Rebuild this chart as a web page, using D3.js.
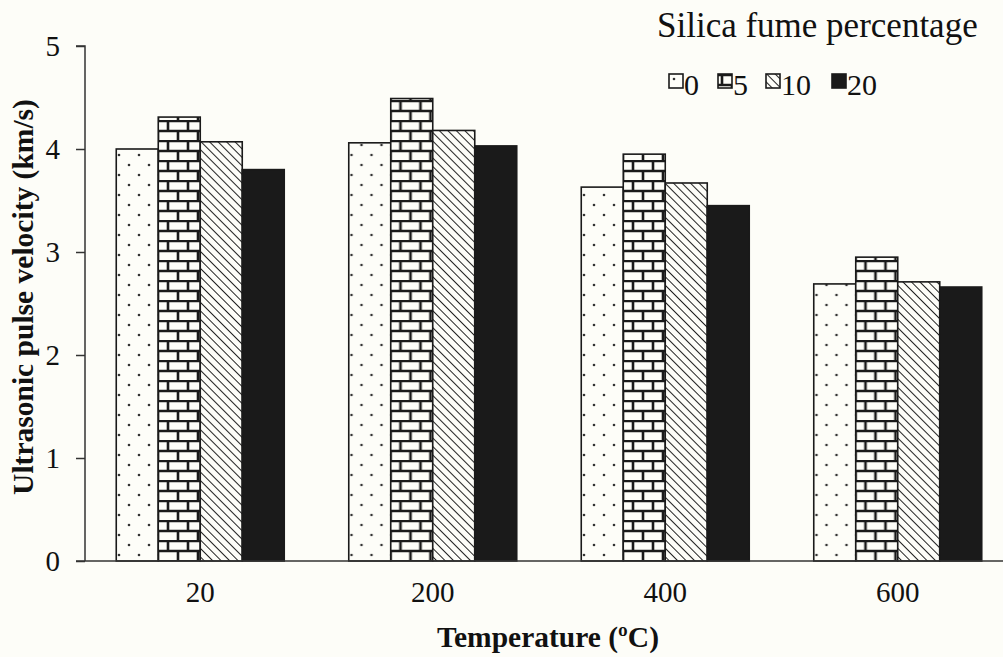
<!DOCTYPE html>
<html><head><meta charset="utf-8">
<script src="https://cdn.jsdelivr.net/npm/d3@7"></script>
<style>body{margin:0;background:#fdfdf8;}svg{display:block;}</style>
</head><body><svg id="c" width="1003" height="657"></svg>
<script>
const categories = ["20", "200", "400", "600"];
const seriesNames = ["0", "5", "10", "20"];
const s0 = [4.00, 4.06, 3.63, 2.69];
const s5 = [4.31, 4.49, 3.95, 2.95];
const s10 = [4.07, 4.18, 3.67, 2.71];
const s20 = [3.80, 4.03, 3.45, 2.66];
const yTicks = [0, 1, 2, 3, 4, 5];
const seriesValues = [s0, s5, s10, s20];

const svg = d3.select("#c");
const FONT = "'Liberation Serif', 'Times New Roman', serif";
svg.append("rect").attr("width",1003).attr("height",657).attr("fill","#fdfdf8");

const defs = svg.append("defs");
// dots
const pDot = defs.append("pattern").attr("id","p0").attr("patternUnits","userSpaceOnUse")
  .attr("width",20).attr("height",20);
pDot.append("rect").attr("width",20).attr("height",20).attr("fill","#fdfdf8");
pDot.append("circle").attr("cx",5).attr("cy",5).attr("r",1.3).attr("fill","#333");
pDot.append("circle").attr("cx",15).attr("cy",15).attr("r",1.3).attr("fill","#333");
// bricks
const pBr = defs.append("pattern").attr("id","p5").attr("patternUnits","userSpaceOnUse")
  .attr("width",20).attr("height",20);
pBr.append("rect").attr("width",20).attr("height",20).attr("fill","#fdfdf8");
pBr.append("path").attr("d","M0,1H20M0,11H20M4,1V11M14,11V21")
  .attr("stroke","#1a1a1a").attr("stroke-width",2.6).attr("fill","none");
// diagonal (\\ direction)
const pDg = defs.append("pattern").attr("id","p10").attr("patternUnits","userSpaceOnUse")
  .attr("width",6).attr("height",6).attr("patternTransform","rotate(-45)");
pDg.append("rect").attr("width",6).attr("height",6).attr("fill","#fdfdf8");
pDg.append("line").attr("x1",0).attr("y1",0).attr("x2",0).attr("y2",6)
  .attr("stroke","#222").attr("stroke-width",2);
const fills = ["url(#p0)", "url(#p5)", "url(#p10)", "#1a1a1a"];

const y = d3.scaleLinear().domain([0,5]).range([561,46]);
const x0 = d3.scaleBand().domain(categories).range([84,1014]).padding(0);
const x1 = d3.scaleBand().domain(seriesNames).range([0,x0.bandwidth()]).paddingInner(0).paddingOuter(0.768);

// axes
const yAxis = svg.append("g").attr("transform","translate(85,0)")
  .call(d3.axisLeft(y).tickValues(yTicks).tickFormat(d3.format("d")).tickSize(9).tickPadding(16));
yAxis.select(".domain").attr("stroke","#333").attr("stroke-width",1.5).attr("d","M-9,46H0V561");
yAxis.selectAll(".tick line").attr("stroke","#333").attr("stroke-width",1.5);
yAxis.selectAll(".tick text").attr("font-family",FONT).attr("font-size",29).attr("fill","#111");

// bars
const groups = svg.append("g").selectAll("g").data(categories).join("g")
  .attr("transform", d => `translate(${x0(d)},0)`);
groups.selectAll("rect").data((c,ci) => seriesNames.map((s,si)=>({s,si,v:seriesValues[si][ci]})))
  .join("rect")
  .attr("x", d => x1(d.s)).attr("width", x1.bandwidth())
  .attr("y", d => y(d.v)).attr("height", d => y(0)-y(d.v))
  .attr("fill", d => fills[d.si]).attr("stroke","#1a1a1a").attr("stroke-width",1.6);

const xAxis = svg.append("g").attr("transform","translate(0,561)")
  .call(d3.axisBottom(x0).tickSize(0).tickPadding(20));
xAxis.select(".domain").attr("stroke","#333").attr("stroke-width",1.5).attr("d","M76,0H1003");
xAxis.selectAll(".tick text").attr("font-family",FONT).attr("font-size",29).attr("fill","#111");

// titles
svg.append("text").attr("x",548).attr("y",647).attr("text-anchor","middle")
  .attr("font-family",FONT).attr("font-weight","bold").attr("font-size",29.5).attr("fill","#111")
  .text("Temperature (ºC)");
svg.append("text").attr("transform","translate(33,297) rotate(-90)").attr("text-anchor","middle")
  .attr("font-family",FONT).attr("font-weight","bold").attr("font-size",29.5).attr("fill","#111")
  .text("Ultrasonic pulse velocity (km/s)");

// legend
svg.append("text").attr("x",657).attr("y",37).attr("font-family",FONT).attr("font-size",35).attr("fill","#111")
  .text("Silica fume percentage");
const legX = [669, 718, 766, 832];
const leg = svg.append("g").selectAll("g").data(seriesNames).join("g")
  .attr("transform",(d,i)=>`translate(${legX[i]},74)`);
leg.append("rect").attr("width",14).attr("height",14).attr("fill",(d,i)=>fills[i])
  .attr("stroke","#1a1a1a").attr("stroke-width",1.6);
leg.append("text").attr("x",15).attr("y",21).attr("font-family",FONT).attr("font-size",30).attr("fill","#111")
  .text(d=>d);
</script></body></html>
